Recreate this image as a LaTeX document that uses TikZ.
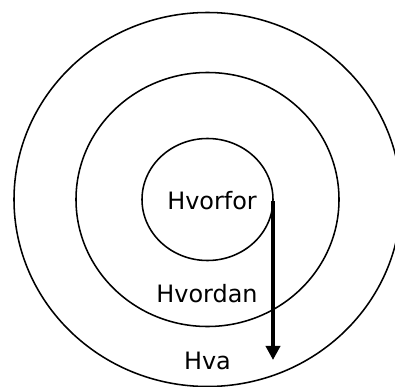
\documentclass[tikz,border=0pt]{standalone}
\usepackage{fontspec}
\setmainfont{DejaVu Sans}
\usetikzlibrary{arrows.meta,positioning}

\begin{document}
\begin{tikzpicture}[
    x=0.025cm,
    y=-0.025cm,
    every node/.style={inner sep=0pt, font=\fontsize{17}{20}\selectfont},
    ring/.style={line width=1.1pt}
]

\useasboundingbox (0,0) rectangle (395,387);

% Rings
\coordinate (c) at (207.5,199.5);
\draw[ring] (c) ellipse [x radius=193.5, y radius=187];
\draw[ring] (c) ellipse [x radius=131.5, y radius=127];
\draw[ring] (c) ellipse [x radius=65.5, y radius=61];


% Labels
\node[anchor=base] (hvorfor) at (212,209.3) {Hvorfor};
\node[anchor=base] (hvordan) at (207,302) {Hvordan};
\node[anchor=base] (hva) at (207.5,369) {Hva};


% Arrow
\coordinate (start) at (273,201);
\coordinate (end) at (273,360);
\draw[line width=2.5pt, -{Triangle[length=10pt, width=10pt]}] (start) -- (end);

\end{tikzpicture}
\end{document}
